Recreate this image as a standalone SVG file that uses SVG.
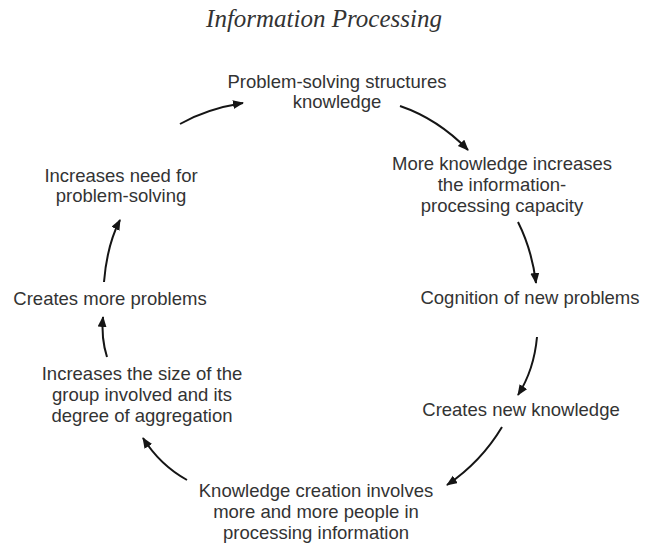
<svg xmlns="http://www.w3.org/2000/svg" width="646" height="545" viewBox="0 0 646 545">
<style>
.t{font-family:"Liberation Sans",Arial,sans-serif;font-size:18.5px;fill:#333;text-anchor:middle}
.title{font-family:"Liberation Serif","Times New Roman",serif;font-style:italic;font-size:25px;fill:#333;text-anchor:middle}
.c{fill:none;stroke:#151515;stroke-width:2;marker-end:url(#ah)}
</style>
<defs>
<marker id="ah" markerUnits="userSpaceOnUse" markerWidth="12" markerHeight="10" refX="10" refY="4.5" orient="auto">
<path d="M0,0 L11,4.5 L0,9 z" fill="#151515"/>
</marker>
</defs>
<rect width="646" height="545" fill="#fff"/>
<text class="title" x="324" y="27">Information Processing</text>
<g id="n1"><text class="t" x="337" y="88">Problem-solving structures</text><text class="t" x="337" y="108">knowledge</text></g>
<g id="n2"><text class="t" x="502" y="170">More knowledge increases</text><text class="t" x="502" y="191">the information-</text><text class="t" x="502" y="212">processing capacity</text></g>
<g id="n3"><text class="t" x="530" y="304">Cognition of new problems</text></g>
<g id="n4"><text class="t" x="521" y="416">Creates new knowledge</text></g>
<g id="n5"><text class="t" x="316" y="497">Knowledge creation involves</text><text class="t" x="316" y="518">more and more people in</text><text class="t" x="316" y="539">processing information</text></g>
<g id="n6"><text class="t" x="142" y="380">Increases the size of the</text><text class="t" x="142" y="401">group involved and its</text><text class="t" x="142" y="422">degree of aggregation</text></g>
<g id="n7"><text class="t" x="110" y="305">Creates more problems</text></g>
<g id="n8"><text class="t" x="121" y="182">Increases need for</text><text class="t" x="121" y="202">problem-solving</text></g>
<g id="connectors">
<path class="c" d="M180,124 Q206,109 243,103"/>
<path class="c" d="M400,106 Q438,119 468,150"/>
<path class="c" d="M518,222 Q532,250 536,283"/>
<path class="c" d="M537,337 Q534,370 518,395"/>
<path class="c" d="M502,427 Q481,462 447,485"/>
<path class="c" d="M187,480 Q160,465 143,438"/>
<path class="c" d="M107,357 Q101,338 103,317"/>
<path class="c" d="M104,282 Q107,245 120,220"/>
</g>
</svg>
